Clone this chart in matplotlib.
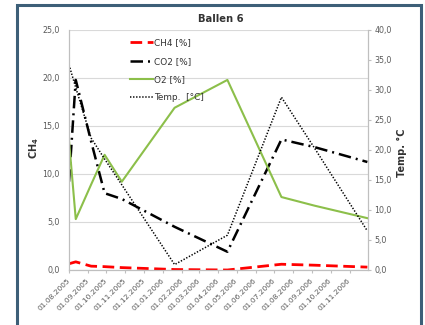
import datetime as dt

import matplotlib
matplotlib.use("Agg")
import matplotlib.pyplot as plt
from matplotlib.patches import Rectangle

# Measurement dates and readings for bale no. 6
dates = ["2005-08-01", "2005-08-12", "2005-09-06", "2005-09-28", "2005-10-26",
         "2006-01-20", "2006-04-16", "2006-07-13", "2006-09-05", "2006-11-30"]
ch4 = [0.65, 0.85, 0.4, 0.35, 0.25, 0.05, 0.0, 0.6, 0.5, 0.3]
co2 = [9.2, 19.8, 13.4, 8.0, 7.4, 4.5, 1.9, 13.6, 12.8, 11.25]
o2 = [13.5, 5.3, 8.9, 12.0, 9.2, 16.9, 19.8, 7.6, 6.7, 5.4]
temp = [34.2, 30.4, 22.0, 18.5, 14.2, 0.9, 5.8, 28.8, 20.3, 6.5]

month_ticks = ["2005-08-01", "2005-09-01", "2005-10-01", "2005-11-01", "2005-12-01",
               "2006-01-01", "2006-02-01", "2006-03-01", "2006-04-01", "2006-05-01",
               "2006-06-01", "2006-07-01", "2006-08-01", "2006-09-01", "2006-10-01",
               "2006-11-01"]
left_ticks = [0, 5, 10, 15, 20, 25]
right_ticks = [0, 5, 10, 15, 20, 25, 30, 35, 40]

FONT = ["Liberation Sans Narrow", "DejaVu Sans"]
plt.rcParams["font.family"] = FONT
GRAY = "#595959"
AXIS = "#bfbfbf"
DARK = "#333333"


def to_date(s):
    return dt.datetime.strptime(s, "%Y-%m-%d")


x = [to_date(d) for d in dates]
xt = [to_date(d) for d in month_ticks]

fig = plt.figure(figsize=(4.25, 3.25), dpi=100)
W, H = 425, 325
ax = fig.add_axes([69 / W, (H - 270) / H, 299 / W, 240 / H])
ax2 = ax.twinx()

# gas concentrations on the primary axis
l_ch4, = ax.plot(x, ch4, color="#ff0000", lw=2.0, dashes=(4.2, 2.0), label="CH4 [%]",
                 dash_capstyle="butt")
l_co2, = ax.plot(x, co2, color="black", lw=1.8, dashes=(5.0, 2.0, 0.8, 2.0),
                 label="CO2 [%]", dash_capstyle="butt")
l_o2, = ax.plot(x, o2, color="#8cbf4a", lw=1.5, label="O2 [%]")
# temperature on the secondary axis
l_t, = ax2.plot(x, temp, color="black", lw=1.1, dashes=(0.9, 1.1), label="Temp.  [°C]")

ax.set_xlim(to_date("2005-08-01"), to_date("2006-12-01"))
ax.set_ylim(0, 25)
ax2.set_ylim(0, 40)

ax.set_yticks(left_ticks)
ax.set_yticklabels([f"{v:.1f}".replace(".", ",") for v in left_ticks])
ax2.set_yticks(right_ticks)
ax2.set_yticklabels([f"{v:.1f}".replace(".", ",") for v in right_ticks])

ax.set_xticks(xt)
ax.set_xticklabels([d.strftime("%d.%m.%Y") for d in xt], rotation=45,
                   ha="right", va="center", rotation_mode="anchor")

ax.grid(axis="y", color="#d9d9d9", lw=0.8)
ax.set_axisbelow(True)

for a in (ax, ax2):
    a.spines["top"].set_visible(False)
    for s in ("left", "right", "bottom"):
        a.spines[s].set_color(AXIS)
        a.spines[s].set_linewidth(0.8)

ax.tick_params(axis="y", length=0, labelsize=5.7, colors=GRAY, pad=6.5)
ax.tick_params(axis="x", length=2.5, width=0.8, color=AXIS, labelsize=5.4,
               labelcolor=GRAY, pad=4)
ax2.tick_params(axis="y", length=2.5, width=0.8, color=AXIS, labelsize=5.7,
                labelcolor=GRAY, pad=2)

ax.set_ylabel("CH$_\\mathbf{4}$", fontsize=7, fontweight="bold", color=DARK)
ax.yaxis.set_label_coords(-0.094, 0.51)
ax2.set_ylabel("Temp. °C", fontsize=7, fontweight="bold", color=DARK, rotation=90)
ax2.yaxis.set_label_coords(1.097, 0.49)

fig.text(221 / W, 1 - 19 / H, "Ballen 6", ha="center", va="center",
         fontsize=7.2, fontweight="bold", color=DARK)

leg = ax2.legend(handles=[l_ch4, l_co2, l_o2, l_t], loc="upper left",
                 bbox_to_anchor=((130 - 69) / 299, 1 - 8.5 / 240), frameon=False,
                 fontsize=6.4, handlelength=2.6, handletextpad=0.15,
                 labelspacing=1.05, borderpad=0, borderaxespad=0)
for t in leg.get_texts():
    t.set_color(DARK)

# dark outer frame of the chart
fig.patches.append(Rectangle((16.8 / W, -0.05), (421 - 16.8) / W, 1.05 - 4.7 / H,
                             fill=False, edgecolor="#3d5f78", lw=2.2,
                             transform=fig.transFigure, figure=fig))

fig.savefig("out.png", dpi=100)
